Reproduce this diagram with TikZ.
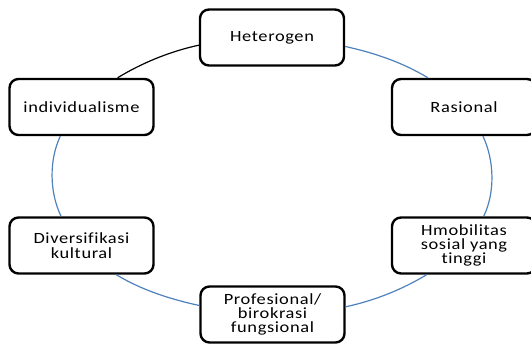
\documentclass[tikz,border=0pt]{standalone}
\usepackage{fontspec}
\setmainfont{Carlito}[LetterSpace=4, FakeStretch=1.18, Ligatures=NoCommon]
\definecolor{ringblue}{HTML}{4F81BD}

\begin{document}
\begin{tikzpicture}[x=1pt, y=1pt,
  box/.style={draw, line width=2.4pt, rounded corners=9pt, fill=white,
    minimum width=144pt, minimum height=56pt, align=center,
    font=\fontsize{15.6}{14.3}\selectfont},
  ring/.style={ringblue, line width=1.2pt, looseness=0.85}]
  \useasboundingbox (0,0) rectangle (531,344);
  % --- the six boxes ---
  \node[box] (heterogen) at (272,306.5) {Heterogen};
  \node[box] (indiv) at (81.5,237) {individualisme};
  \node[box] (divers) at (81.5,98.5) {Diversifikasi\\kultural};
  \node[box] (prof) at (272.5,29.5) {Profesional/\\birokrasi\\fungsional};
  \node[box] (hmob) at (464,98.5) {Hmobilitas\\sosial yang\\tinggi};
  \node[box] (rasional) at (464,237) {Rasional};
  % --- the ring between them ---
  \draw[ring, black] (heterogen.186.4) to[out=192.2, in=31.3] (indiv.39.8);
  \draw[ring] (indiv.234.3) to[out=244.8, in=115.8] (divers.125.4);
  \draw[ring] (divers.320.9) to[out=328.7, in=167.8] (prof.173.6);
  \draw[ring] (prof.6.4) to[out=12.2, in=211.3] (hmob.218);
  \draw[ring] (hmob.56.7) to[out=64.2, in=295.2] (rasional.303.6);
  \draw[ring] (rasional.141.4) to[out=148.7, in=347.8] (heterogen.353.6);
\end{tikzpicture}
\end{document}
